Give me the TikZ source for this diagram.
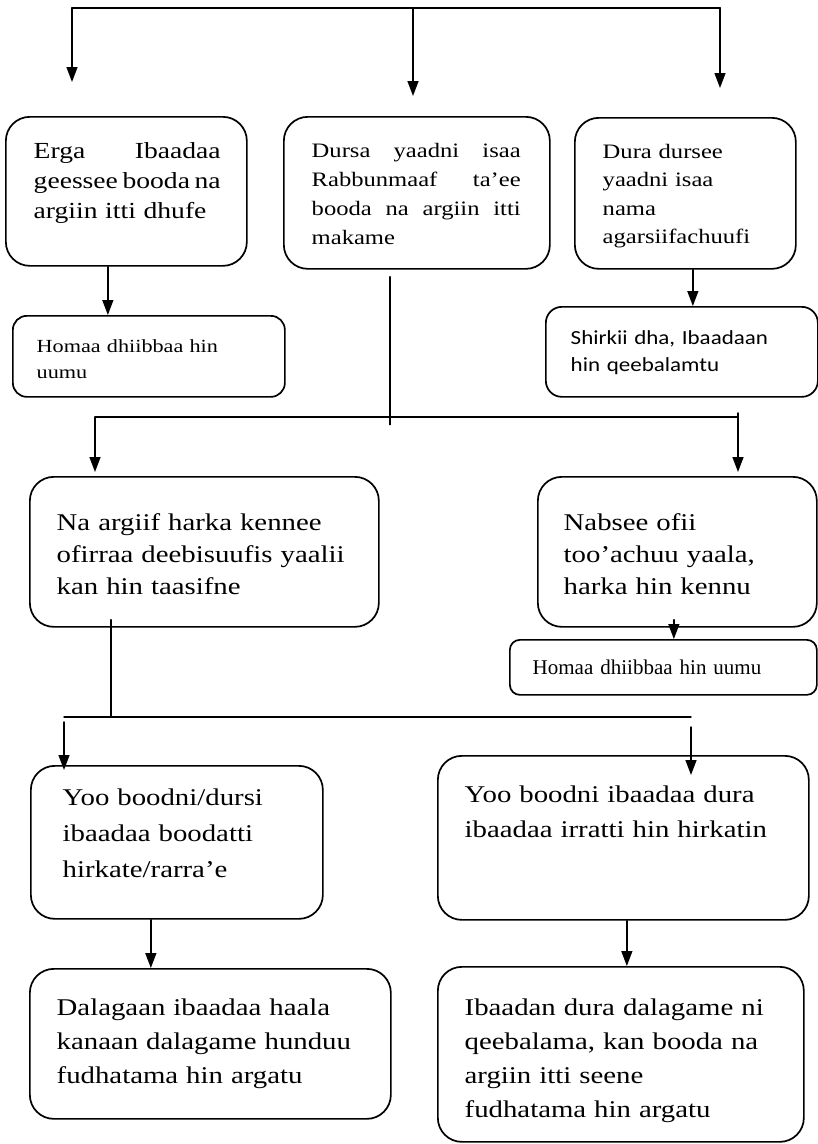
\documentclass[tikz,border=0pt]{standalone}
\usepackage{fontspec}
\setmainfont{Liberation Serif}[FakeStretch=1.2]
\newfontfamily\plainserif{Liberation Serif}
\newfontfamily\calfont{Carlito}[FakeStretch=1.15]
\usetikzlibrary{arrows.meta,positioning,calc}
\tikzstyle{every path}=[line width=1.4pt,line cap=round,line join=round]
\tikzset{
  flowbox/.style 2 args={draw,line width=1.7pt,rounded corners=24pt,
    minimum width=#1,minimum height=#2,inner sep=0pt,anchor=north west},
  ftxt/.style={anchor=base west,inner sep=0pt,align=left,text width=#1},
  arr/.style={-{Triangle[width=11pt,length=15pt]}}
}
% justified line of a given width (gaps given by \hfill)
\newcommand{\jl}[2]{\makebox[#1][l]{#2}}

\begin{document}
\begin{tikzpicture}[x=1pt,y=-1pt]
\useasboundingbox (0,0) rectangle (818,1144);
% top row
\node[flowbox={241}{149}] (erga) at (5,116) {};
\node[ftxt=200,font=\fontsize{23}{30}\selectfont] (ergatxt) at (33,158)
  {\jl{187pt}{Erga\hfill Ibaadaa}\\ \jl{187pt}{geessee\hfill booda\hfill na}\\ argiin itti dhufe};
\node[flowbox={266}{152}] (dursa) at (283,116) {};
\node[ftxt=220,font=\fontsize{20.5}{29}\selectfont] (dursatxt) at (311,157)
  {\jl{209pt}{Dursa\hfill yaadni\hfill isaa}\\ \jl{209pt}{Rabbunmaaf\hfill ta’ee}\\
   \jl{209pt}{booda\hfill na\hfill argiin\hfill itti}\\ makame};
\node[flowbox={221}{151}] (dura) at (574,117) {};
\node[ftxt=200,font=\fontsize{20.5}{28.5}\selectfont] (duratxt) at (602,158)
  {Dura dursee\\ yaadni isaa\\ nama\\ agarsiifachuufi};
\node[flowbox={272}{81},rounded corners=14pt] (homaa) at (12,315) {};
\node[ftxt=240,font=\fontsize{18.5}{26}\selectfont] (homaatxt) at (36,352)
  {Homaa dhiibbaa hin\\ uumu};
\node[flowbox={272}{90},rounded corners=16pt] (shirkii) at (545,306) {};
\node[ftxt=240,font=\calfont\fontsize{20}{27}\selectfont] (shirkiitxt) at (570,344)
  {Shirkii dha, Ibaadaan\\ hin qeebalamtu};
% middle row
\node[flowbox={349}{150}] (argiif) at (29,476) {};
\node[ftxt=320,font=\fontsize{24}{32}\selectfont] (argiiftxt) at (56,530)
  {Na argiif harka kennee\\ ofirraa deebisuufis yaalii\\ kan hin taasifne};
\node[flowbox={279}{150}] (nabsee) at (537,476) {};
\node[ftxt=250,font=\fontsize{24}{32}\selectfont] (nabseetxt) at (563,530)
  {Nabsee ofii\\ too’achuu yaala,\\ harka hin kennu};
\node[flowbox={307}{55},rounded corners=10pt] (homaab) at (509,639) {};
\node[ftxt=290,font=\plainserif\fontsize{21}{24}\selectfont] (homaabtxt) at (532,674)
  {Homaa dhiibbaa hin uumu};
% lower rows
\node[flowbox={292}{153}] (boodni) at (30,765) {};
\node[ftxt=260,font=\fontsize{24}{36}\selectfont] (boodnitxt) at (62,805)
  {Yoo boodni/dursi\\ ibaadaa boodatti\\ hirkate/rarra’e};
\node[flowbox={371}{164}] (hirkatin) at (437,755) {};
\node[ftxt=340,font=\fontsize{24}{35}\selectfont] (hirkatintxt) at (464,802)
  {Yoo boodni ibaadaa dura\\ ibaadaa irratti hin hirkatin};
\node[flowbox={361}{150}] (dalagaan) at (29,968) {};
\node[ftxt=330,font=\fontsize{24}{34}\selectfont] (dalagaantxt) at (56,1015)
  {Dalagaan ibaadaa haala\\ kanaan dalagame hunduu\\ fudhatama hin argatu};
\node[flowbox={366}{175}] (ibaadan) at (437,966) {};
\node[ftxt=340,font=\fontsize{24}{34}\selectfont] (ibaadantxt) at (464,1015)
  {Ibaadan dura dalagame ni\\ qeebalama, kan booda na\\ argiin itti seene\\ fudhatama hin argatu};

% connectors
\coordinate (topl) at (72,8);
\coordinate (topm) at (413,8);
\coordinate (topr) at (720,8);
\draw[line width=2.4pt] (topl) -- (topr);
\draw[arr] (topl) -- ++(0,74);
\draw[arr] (topm) -- ++(0,88);
\draw[arr] (topr) -- ++(0,80);
\draw[arr] ([xshift=-18.5pt]erga.south) -- ([xshift=-18.5pt]erga.south |- homaa.north);
\draw[arr] ([xshift=7.5pt]dura.south) -- ([xshift=7.5pt]dura.south |- shirkii.north);
\coordinate (barl) at (95,417);
\coordinate (barr) at (738,417);
\draw ([shift={(-27,7)}]dursa.south) -- ++(0,148);
\draw (barl) -- (barr);
\draw[arr] (barl) -- ++(0,55);
\draw[arr] ([yshift=4pt]barr) -- ++(0,59);
\draw[arr] ([shift={(-3.5,-8)}]nabsee.south) -- ([xshift=-3.5pt]nabsee.south |- homaab.north);
\coordinate (lowl) at (64,717);
\coordinate (lowr) at (691,717);
\draw ([shift={(-93.5,-8)}]argiif.south) -- ([xshift=-93.5pt]argiif.south |- lowl);
\draw (lowl) -- (lowr);
\draw[arr] ([yshift=-5pt]lowl) -- ++(0,48);
\draw[arr] ([yshift=-10pt]lowr) -- ++(0,48);
\draw[arr] ([xshift=-26pt]boodni.south) -- ([xshift=-26pt]boodni.south |- dalagaan.north);
\draw[arr] ([xshift=3.5pt]hirkatin.south) -- ([xshift=3.5pt]hirkatin.south |- ibaadan.north);
\end{tikzpicture}
\end{document}
